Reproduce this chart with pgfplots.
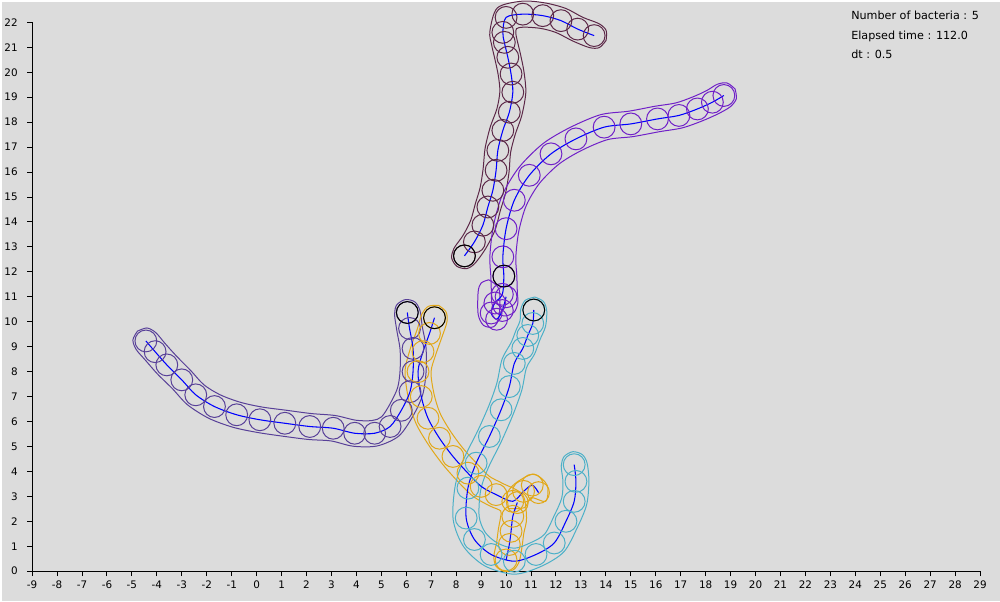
\documentclass[border=0pt]{standalone}
\usepackage{pgfplots}
\pgfplotsset{compat=1.18}
\usepackage{pgfplotstable}
\usepackage{fontspec}
\setmainfont{DejaVu Sans}
\definecolor{bg}{RGB}{220,220,220}
\definecolor{cA}{RGB}{92,40,72}
\definecolor{cB}{RGB}{112,32,200}
\definecolor{cC}{RGB}{88,64,152}
\definecolor{cD}{RGB}{226,168,24}
\definecolor{cE}{RGB}{76,176,200}
\definecolor{cline}{RGB}{0,0,255}

% ---- cell centres (circles and centre lines) ----
\pgfplotstableread{
x y
13.53 21.47
12.87 21.73
12.20 22.07
11.47 22.27
10.67 22.33
10.00 22.20
9.87 21.60
9.93 21.20
10.07 20.60
10.20 19.93
10.27 19.20
10.13 18.40
9.87 17.67
9.67 16.87
9.60 16.07
9.47 15.27
9.27 14.60
9.07 13.87
8.73 13.20
8.33 12.64
}\datA

\pgfplotstableread{
x y
18.73 19.07
18.27 18.80
17.67 18.53
16.93 18.27
16.07 18.13
15.00 17.93
13.93 17.80
12.80 17.33
11.80 16.73
10.93 15.87
10.33 14.87
10.00 13.73
9.87 12.60
9.91 11.83
9.85 11.10
9.55 10.75
9.40 10.35
9.62 10.10
9.85 10.45
10.00 11.00
}\datB

\pgfplotstableread{
x y
-4.44 9.23
-4.07 8.80
-3.60 8.27
-3.00 7.67
-2.44 7.07
-1.69 6.60
-0.80 6.27
0.13 6.07
1.13 5.93
2.13 5.80
3.07 5.73
3.93 5.53
4.73 5.53
5.35 5.80
5.80 6.45
6.15 7.20
6.27 8.00
6.27 8.93
6.13 9.73
6.04 10.37
}\datC

\pgfplotstableread{
x y
7.13 10.16
6.93 9.53
6.67 8.80
6.47 8.00
6.60 7.00
6.87 6.13
7.33 5.33
7.87 4.60
8.47 3.93
9.00 3.40
9.60 3.07
10.27 2.80
10.70 3.20
11.05 3.45
11.30 3.15
}\datD

\pgfplotstableread{
x y
10.45 2.75
10.27 2.20
10.20 1.60
10.13 1.07
10.00 0.45
}\datDb

\pgfplotstableread{
x y
11.11 10.47
11.07 9.93
10.87 9.45
10.67 8.93
10.33 8.33
10.13 7.40
9.80 6.47
9.33 5.40
8.80 4.33
8.47 3.33
8.40 2.13
8.73 1.27
9.40 0.67
10.33 0.40
11.20 0.67
11.93 1.13
12.40 2.00
12.73 2.80
12.80 3.60
12.73 4.27
}\datE

\pgfplotstableread{
x y
8.33 12.64
9.91 11.83
6.04 10.37
7.13 10.16
11.11 10.47
}\datHeads

% ---- cell envelopes (closed outlines) ----
\pgfplotstableread{
x y
14.01 21.28
13.74 20.99
13.34 20.99
12.66 21.26
12.01 21.59
11.38 21.76
10.70 21.81
10.42 21.75
10.39 21.56
10.44 21.30
10.58 20.71
10.72 20.00
10.79 19.18
10.63 18.27
10.37 17.52
10.18 16.78
10.12 16.01
9.98 15.16
9.77 14.46
9.56 13.68
9.18 12.93
8.75 12.34
8.42 12.13
8.03 12.22
7.82 12.55
7.91 12.94
8.28 13.47
8.58 14.06
8.77 14.74
8.96 15.38
9.08 16.13
9.16 16.96
9.37 17.82
9.63 18.53
9.75 19.22
9.69 19.86
9.56 20.49
9.42 21.10
9.35 21.64
9.65 22.58
10.64 22.85
11.56 22.78
12.39 22.56
13.08 22.20
13.72 21.95
14.01 21.68
14.01 21.28
}\envA

\pgfplotstableread{
x y
19.18 19.33
19.23 18.94
18.99 18.62
18.51 18.34
17.86 18.05
17.06 17.77
16.16 17.62
15.08 17.42
14.07 17.30
13.03 16.87
12.12 16.32
11.34 15.55
10.81 14.66
10.51 13.63
10.39 12.58
10.43 11.85
10.45 11.20
10.47 10.75
10.32 10.38
9.95 10.23
9.58 10.38
9.43 10.75
9.41 11.20
9.39 11.81
9.35 12.62
9.49 13.83
9.85 15.08
10.52 16.19
11.48 17.14
12.57 17.79
13.79 18.30
14.92 18.44
15.98 18.64
16.80 18.77
17.48 19.01
18.03 19.26
18.47 19.52
18.86 19.57
19.18 19.33
}\envB

\pgfplotstableread{
x y
9.30 11.68
9.72 11.30
9.72 10.20
9.50 9.80
9.10 9.85
8.88 10.30
8.88 11.20
9.00 11.55
9.30 11.68
}\envBb

\pgfplotstableread{
x y
-4.78 9.62
-4.40 9.75
-4.05 9.57
-3.68 9.14
-3.22 8.63
-2.63 8.03
-2.11 7.47
-1.46 7.07
-0.65 6.77
0.22 6.58
1.20 6.45
2.18 6.32
3.15 6.24
3.99 6.05
4.63 6.04
5.01 6.19
5.35 6.71
5.65 7.35
5.75 8.04
5.75 8.89
5.62 9.65
5.53 10.30
5.62 10.68
5.97 10.89
6.35 10.79
6.55 10.44
6.64 9.81
6.79 8.97
6.79 7.96
6.65 7.05
6.25 6.19
5.69 5.41
4.83 5.02
3.87 5.01
2.99 5.22
2.08 5.28
1.06 5.41
0.04 5.56
-0.95 5.77
-1.92 6.13
-2.77 6.67
-3.37 7.31
-3.98 7.91
-4.46 8.46
-4.83 8.89
-4.96 9.27
-4.78 9.62
}\envC

\pgfplotstableread{
x y
7.29 10.66
7.59 10.40
7.63 10.00
7.42 9.36
7.17 8.65
6.99 7.98
7.11 7.11
7.35 6.34
7.77 5.61
8.27 4.93
8.85 4.29
9.32 3.81
9.84 3.53
10.66 3.07
10.82 2.13
10.71 1.52
10.64 0.99
10.53 0.40
10.31 0.07
9.92 -0.01
9.59 0.21
9.51 0.60
9.62 1.15
9.69 1.68
9.78 2.17
9.78 2.42
9.36 2.61
8.69 2.99
8.09 3.57
7.47 4.27
6.90 5.05
6.39 5.92
6.09 6.89
5.95 8.02
6.17 8.95
6.44 9.70
6.63 10.32
6.89 10.62
7.29 10.66
}\envD

\pgfplotstableread{
x y
10.10 2.51
10.06 3.15
10.45 3.58
11.13 3.89
11.65 3.44
11.59 2.80
11.00 2.95
10.74 2.55
10.10 2.51
}\envDb

\pgfplotstableread{
x y
11.15 10.99
11.50 10.81
11.63 10.43
11.58 9.81
11.35 9.26
11.14 8.70
10.82 8.16
10.63 7.26
10.28 6.28
9.80 5.18
9.28 4.13
8.98 3.24
8.92 2.20
9.16 1.56
9.65 1.13
10.33 0.92
10.98 1.14
11.54 1.48
11.93 2.23
12.23 2.93
12.28 3.60
12.21 4.22
12.33 4.60
12.68 4.79
13.06 4.67
13.25 4.32
13.32 3.60
13.23 2.67
12.87 1.78
12.32 0.78
11.42 0.20
10.33 -0.12
9.15 0.21
8.30 0.98
7.88 2.06
7.96 3.42
8.32 4.53
8.86 5.62
9.32 6.66
9.63 7.54
9.84 8.50
10.20 9.16
10.39 9.64
10.56 10.05
10.59 10.51
10.77 10.86
11.15 10.99
}\envE

\pgfplotsset{
  env/.style={line width=0.75pt, smooth, tension=0.5, no markers},
  circ/.style={only marks, mark=o, mark size=8.2pt, mark options={line width=0.75pt}},
  cl/.style={cline, line width=0.8pt, smooth, no markers},
}

\begin{document}
\begin{tikzpicture}
\fill[bg] (0,0) rectangle (750pt,450pt);
\begin{axis}[
  at={(22.5pt,22.5pt)}, anchor=south west,
  x=18.75pt, y=18.75pt, xmin=-9, xmax=29, ymin=0, ymax=22, clip=false,
  axis x line*=bottom, axis y line*=left,
  axis line style={black, line width=0.75pt},
  tick align=outside, major tick length=3.75pt,
  tick style={black, line width=0.75pt},
  xtick={-9,...,29}, ytick={0,...,22},
  ticklabel style={font=\fontsize{7.8}{9}\selectfont},
  yticklabel style={xshift=-3.6pt},
  /pgf/number format/assume math mode=true,
]
% envelopes
\addplot[cA, env] table {\envA};
\addplot[cB, env] table {\envB};
\addplot[cB, env] table {\envBb};
\addplot[cC, env] table {\envC};
\addplot[cD, env] table {\envD};
\addplot[cD, env] table {\envDb};
\addplot[cE, env] table {\envE};
% circles
\addplot[cA, circ] table {\datA};
\addplot[cB, circ] table {\datB};
\addplot[cC, circ] table {\datC};
\addplot[cD, circ] table {\datD};
\addplot[cD, circ] table {\datDb};
\addplot[cE, circ] table {\datE};
% centre lines
\addplot[cl] table {\datA};
\addplot[cl] table {\datB};
\addplot[cl] table {\datC};
\addplot[cl] table {\datD};
\addplot[cl] table {\datDb};
\addplot[cl] table {\datE};
% heads
\addplot[black, circ] table {\datHeads};
\end{axis}
\node[anchor=base west, inner sep=0pt, font=\fontsize{8.4}{9}\selectfont] at (638pt,437pt) {Number of bacteria : 5};
\node[anchor=base west, inner sep=0pt, font=\fontsize{8.4}{9}\selectfont] at (638pt,422.25pt) {Elapsed time : 112.0};
\node[anchor=base west, inner sep=0pt, font=\fontsize{8.4}{9}\selectfont] at (638pt,408pt) {dt : 0.5};
\end{tikzpicture}
\end{document}
